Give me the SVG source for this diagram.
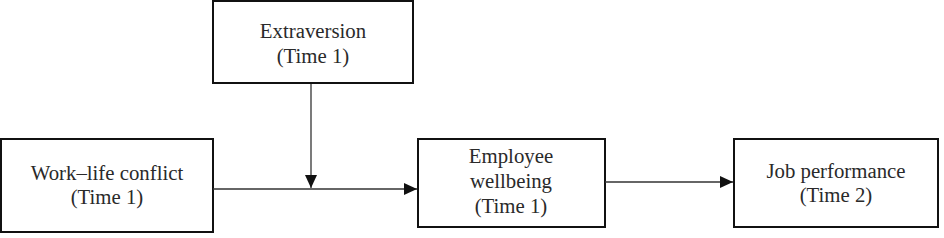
<svg xmlns="http://www.w3.org/2000/svg" width="944" height="238" viewBox="0 0 944 238">
<style>
.box{fill:#fff;stroke:#111;stroke-width:2}
.t{font-family:"Liberation Serif","Times New Roman",serif;font-size:20.8px;fill:#2a2a2a;text-anchor:middle}
.c{stroke:#333;stroke-width:1.3;fill:none}
</style>
<defs>
<marker id="ah" markerUnits="userSpaceOnUse" markerWidth="14" markerHeight="14" refX="13" refY="7" orient="auto">
<path d="M0,1 L13,7 L0,13 Z" fill="#111"/>
</marker>
</defs>
<rect width="944" height="238" fill="#fff"/>
<g id="extraversion">
<rect class="box" x="213" y="1" width="200" height="82"/>
<text class="t" x="313" y="38">Extraversion</text>
<text class="t" x="313" y="63">(Time 1)</text>
</g>
<g id="worklife">
<rect class="box" x="1" y="139" width="212" height="93"/>
<text class="t" x="107" y="180">Work–life conflict</text>
<text class="t" x="107" y="204">(Time 1)</text>
</g>
<g id="wellbeing">
<rect class="box" x="418" y="139" width="187" height="88"/>
<text class="t" x="511" y="163">Employee</text>
<text class="t" x="511" y="188">wellbeing</text>
<text class="t" x="511" y="213">(Time 1)</text>
</g>
<g id="performance">
<rect class="box" x="734" y="139" width="204" height="88"/>
<text class="t" x="836" y="178">Job performance</text>
<text class="t" x="836" y="202">(Time 2)</text>
</g>
<g id="connectors">
<line class="c" x1="213" y1="189" x2="417" y2="189" marker-end="url(#ah)"/>
<line class="c" x1="311" y1="84" x2="311" y2="188" marker-end="url(#ah)"/>
<line class="c" x1="605" y1="182" x2="733" y2="182" marker-end="url(#ah)"/>
</g>
</svg>
